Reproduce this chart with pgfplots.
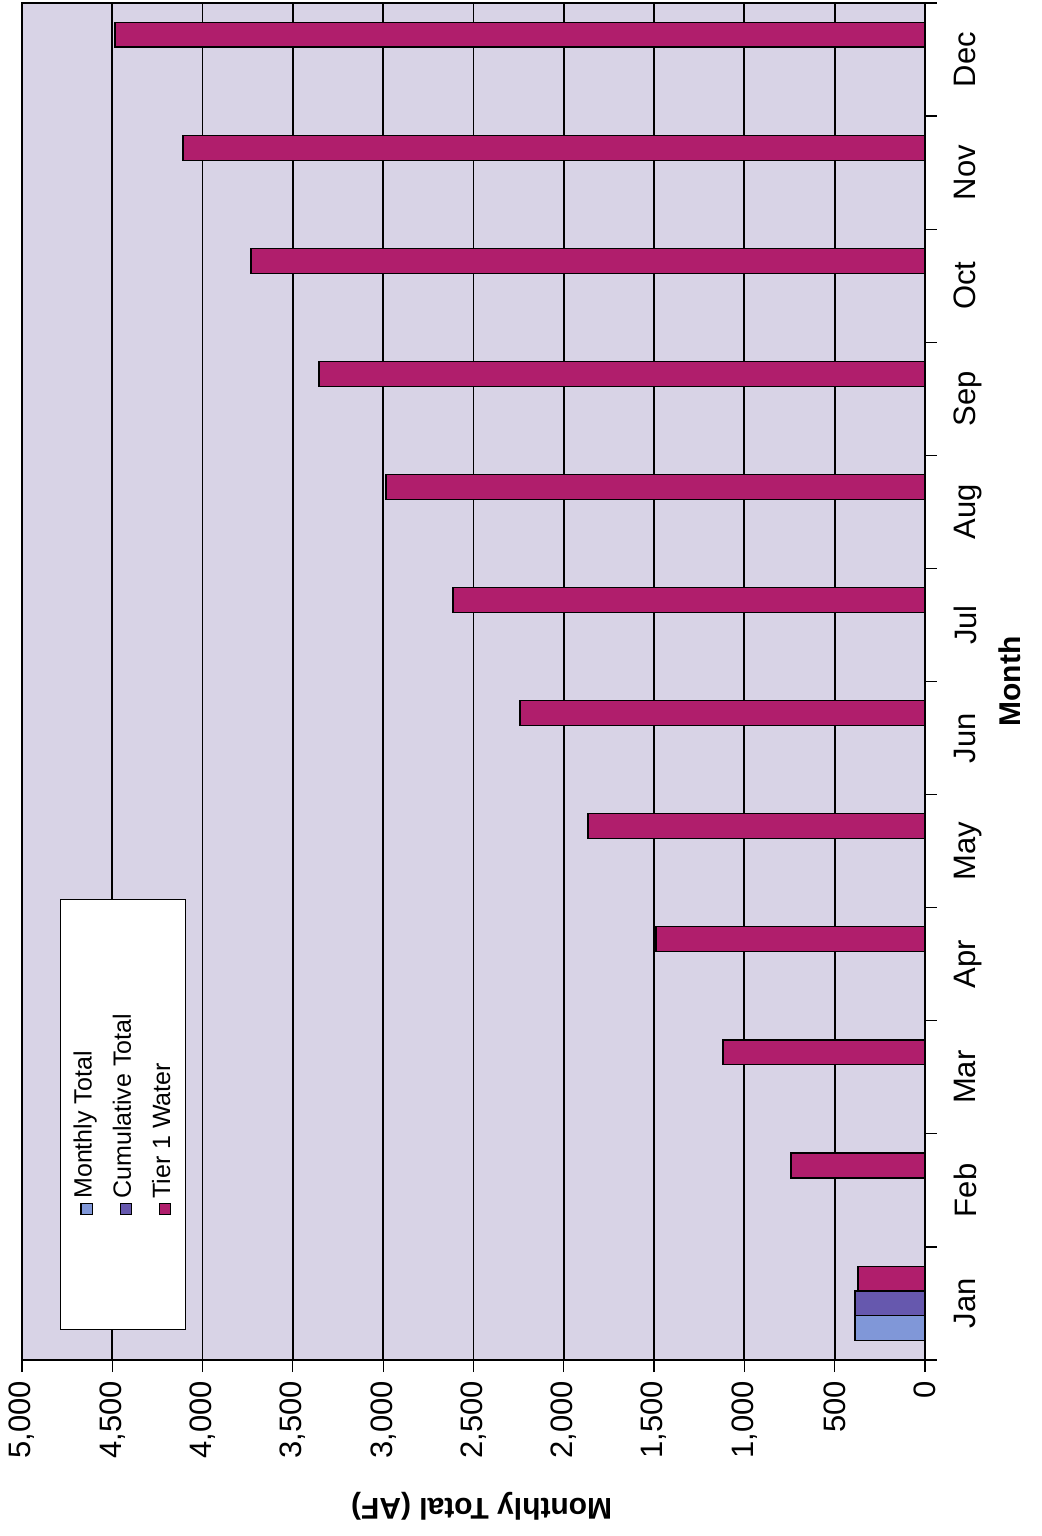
\documentclass[border=0pt]{standalone}
\usepackage{pgfplots}
\pgfplotsset{compat=1.18}
\usepackage{fontspec}
\setmainfont{Liberation Sans}
\definecolor{bgcol}{HTML}{D8D3E6}
\definecolor{mtcol}{HTML}{8097D8}
\definecolor{ctcol}{HTML}{6658AE}
\definecolor{tcol}{HTML}{B01E6C}
\newcommand{\legsq}[1]{{\setlength{\fboxsep}{0pt}\setlength{\fboxrule}{0.6pt}\fcolorbox{black}{#1}{\rule{0pt}{5pt}\rule{5pt}{0pt}}}}
\begin{document}
\begin{tikzpicture}
\path[use as bounding box] (-11pt,-88pt) rectangle (509.5pt,680pt);
\begin{axis}[
	at={(0,0)}, anchor=south west,
	scale only axis, width=451.5pt, height=678.5pt,
	xbar, bar width=0.22,
	x dir=reverse,
	xmin=0, xmax=5000,
	ymin=0.5, ymax=12.5,
	xtick={0,500,...,5000},
	ytick={0.5,1.5,...,12.5},
	y tick label as interval,
	yticklabels={Jan,Feb,Mar,Apr,May,Jun,Jul,Aug,Sep,Oct,Nov,Dec},
	xtick pos=left, ytick pos=right,
	yticklabel pos=right,
	tick align=outside, major tick length=6pt,
	tick style={black, line width=0.6pt},
	axis line style={black, line width=0.8pt},
	xmajorgrids, major grid style={black, line width=0.9pt},
	axis background/.style={fill=bgcol},
	/pgf/number format/1000 sep={,},
	/pgf/number format/assume math mode=true,
	ticklabel style={font=\fontsize{15.5}{18}\selectfont},
	xticklabel style={rotate=90, anchor=east},
	xticklabel shift=1pt,
	yticklabel style={rotate=90, anchor=north},
	yticklabel shift=5pt,
	xlabel={Monthly Total (AF)},
	xlabel style={at={(axis description cs:0.509,-0.108)}, anchor=center, rotate=180, font=\bfseries\fontsize{15}{18}\selectfont},
	ylabel={Month},
	ylabel style={at={(axis description cs:1.094,0.5)}, anchor=center, font=\bfseries\fontsize{15}{18}\selectfont},
]
\addplot[fill=mtcol, draw=black, line width=0.6pt, bar shift=-0.22] coordinates {(388,1)};
\addplot[fill=ctcol, draw=black, line width=0.6pt, bar shift=0] coordinates {(388,1)};
\addplot[fill=tcol, draw=black, line width=0.6pt, bar shift=0.22] coordinates {
	(371,1) (742,2) (1118,3) (1489,4) (1866,5) (2242,6)
	(2613,7) (2984,8) (3355,9) (3732,10) (4108,11) (4485,12)
};
% legend drawn turned, like the rest of the page
\node[rotate=90, anchor=north west, draw=black, fill=white, line width=0.6pt,
	minimum width=215pt, minimum height=62.5pt, inner sep=0pt,
	font=\fontsize{12.5}{14}\selectfont]
	at (axis description cs:0.042,0.022) {%
	\renewcommand{\arraystretch}{1.4}%
	\begin{tabular}{@{}l@{}}
	\legsq{mtcol}\,Monthly Total\\
	\legsq{ctcol}\,Cumulative Total\\
	\legsq{tcol}\,Tier 1 Water
	\end{tabular}};
\end{axis}
\end{tikzpicture}
\end{document}
